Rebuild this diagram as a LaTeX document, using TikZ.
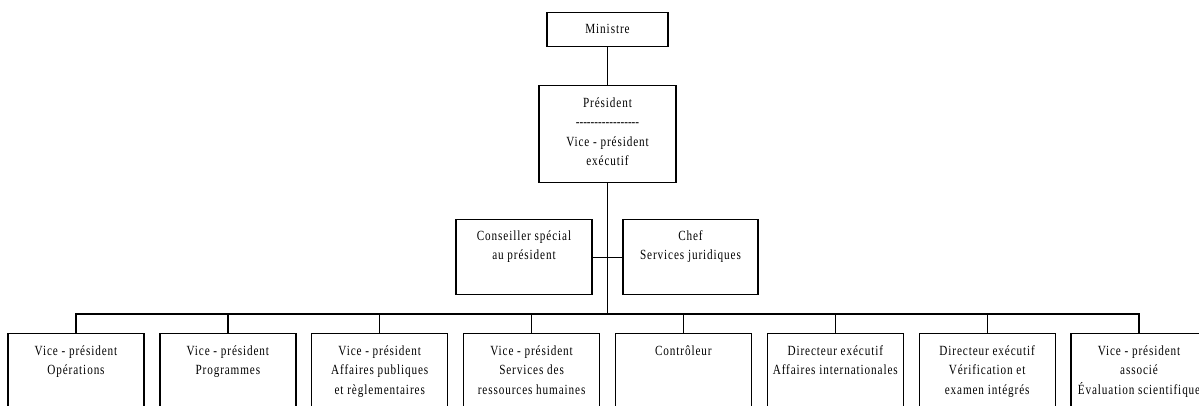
\documentclass[tikz,border=0pt]{standalone}
\usepackage{fontspec}
\setmainfont{Liberation Serif}[FakeStretch=0.8,LetterSpace=6.4]
\newcommand\hy{-\kern0pt}
\newcommand\fs{\rule{0pt}{10pt}}
\begin{document}
\begin{tikzpicture}[x=1pt,y=-1pt,
  box/.style={draw, line width=1.3pt, minimum width=136pt, inner sep=0pt, anchor=north},
  lbl/.style={align=center, inner sep=0pt, anchor=north,
    font=\fontsize{14}{19.5}\selectfont},
  wire/.style={line width=1.3pt}]
\useasboundingbox (0,0) rectangle (1199,406);
\clip (0,0) rectangle (1199,406);
% top
\node[box, minimum width=121pt, minimum height=34pt] (min) at (607.5,12) {};
\node[lbl] (minT) at ([yshift=-11pt]min.north) {\fs Ministre};
\node[box, minimum width=137pt, minimum height=97pt] (pres) at (607.5,85) {};
\node[lbl] (presT) at ([yshift=-12pt]pres.north) {\fs Président\\\hy\hy\hy\hy\hy\hy\hy\hy\hy\hy\hy\hy\hy\hy\hy\hy\hy\\Vice - président\\exécutif};
\node[box, minimum width=136pt, minimum height=75pt] (cons) at (524,219) {};
\node[lbl] (consT) at ([yshift=-11pt]cons.north) {\fs Conseiller spécial\\au président};
\node[box, minimum width=135pt, minimum height=75pt] (chef) at (690.5,219) {};
\node[lbl] (chefT) at ([yshift=-11pt]chef.north) {\fs Chef\\Services juridiques};
% bottom row
\foreach \i/\t in {1/{Vice - président\\Opérations},
                   2/{Vice - président\\Programmes},
                   3/{Vice - président\\Affaires publiques\\et règlementaires},
                   4/{Vice - président\\Services des\\ressources humaines},
                   5/{Contrôleur},
                   6/{Directeur exécutif\\Affaires internationales},
                   7/{Directeur exécutif\\Vérification et\\examen intégrés},
                   8/{Vice - président\\associé\\Évaluation scientifique}}{
  \node[box, minimum height=95pt] (vp\i) at ({76+(\i-1)*151.857},333) {};
  \node[lbl] (vpT\i) at ([yshift=-12pt]vp\i.north) {\fs\t};
}
\coordinate (bus) at (607.5,314);
% connectors
\draw[wire] (min.south) -- (pres.north);
\draw[wire] (pres.south) -- (bus);
\draw[wire] (cons.east) -- (chef.west);
\draw[wire] (vp1.north) |- (vp8.north |- bus) -- (vp8.north);
\foreach \i in {2,...,7}{
  \draw[wire] (vp\i.north) -- (vp\i.north |- bus);
}
\end{tikzpicture}
\end{document}
